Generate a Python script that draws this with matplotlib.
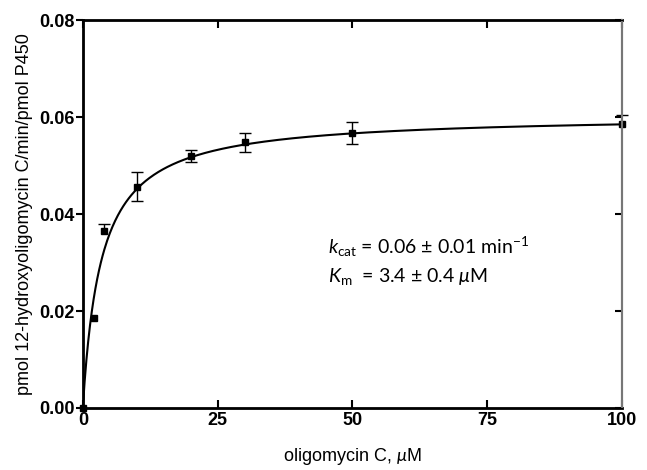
import matplotlib
matplotlib.use("Agg")
import matplotlib.pyplot as plt
import numpy as np

# substrate concentration (uM) and measured rate
conc = [0, 2, 4, 10, 20, 30, 50, 100]
rate = [0.0, 0.0186, 0.0365, 0.0456, 0.0520, 0.0548, 0.0567, 0.0586]
err_lo = [0.0, 0.0, 0.0, 0.0030, 0.0013, 0.0020, 0.0022, 0.0]
err_hi = [0.0, 0.0, 0.0015, 0.0030, 0.0013, 0.0020, 0.0022, 0.0018]

# Michaelis-Menten fit parameters
kcat = 0.0605
km = 3.4

x_ticks = [0, 25, 50, 75, 100]
y_ticks = [0.00, 0.02, 0.04, 0.06, 0.08]

plt.rcParams['font.family'] = ['Liberation Sans', 'DejaVu Sans']
plt.rcParams['mathtext.fontset'] = 'custom'
plt.rcParams['mathtext.rm'] = 'Lato'
plt.rcParams['mathtext.it'] = 'Lato:italic'

fig = plt.figure(figsize=(6.47, 4.70), dpi=100)
ax = fig.add_axes([0.128, 0.132, 0.833, 0.825])

xs = np.linspace(0, 100, 600)
ax.plot(xs, kcat * xs / (km + xs), color='black', lw=1.5, zorder=3)

# error bars, caps only where an error exists
ax.errorbar(conc, rate, yerr=[err_lo, err_hi], fmt='none', ecolor='black',
            elinewidth=1.0, capsize=0, zorder=4)
for xv, yv, lo, hi in zip(conc, rate, err_lo, err_hi):
    if hi > 0:
        ax.plot(xv, yv + hi, marker='_', ms=8, mew=1.0, color='black',
                zorder=4, clip_on=False)
    if lo > 0:
        ax.plot(xv, yv - lo, marker='_', ms=8, mew=1.0, color='black',
                zorder=4, clip_on=False)
ax.plot(conc, rate, 's', color='black', ms=4.5, zorder=5, clip_on=False)

ax.set_xlim(0, 100)
ax.set_ylim(0, 0.08)
ax.set_xticks(x_ticks)
ax.set_yticks(y_ticks)
ax.set_xticklabels([str(t) for t in x_ticks], fontweight='bold', fontsize=13)
ax.set_yticklabels(['%.2f' % t for t in y_ticks], fontweight='bold', fontsize=13)

ax.tick_params(axis='x', direction='in', top=True, length=6, width=1.5, pad=3)
ax.tick_params(axis='y', direction='out', length=5, width=1.5, pad=1)
for side in ['left', 'bottom', 'top']:
    ax.spines[side].set_linewidth(2.0)
ax.spines['right'].set_color('#777777')
ax.spines['right'].set_linewidth(1.5)

# inward ticks on the right side
ax2 = ax.twinx()
ax2.set_ylim(0, 0.08)
ax2.set_yticks(y_ticks)
ax2.set_yticklabels([])
ax2.tick_params(axis='y', direction='in', length=5, width=1.5)
ax2.spines['right'].set_color('#777777')
ax2.spines['right'].set_linewidth(1.5)

ax.set_xlabel('oligomycin C, $\\mu$M', fontsize=13, labelpad=12)
ax.set_ylabel('pmol 12-hydroxyoligomycin C/min/pmol P450', fontsize=13, labelpad=4)

ax.text(0.455, 0.398, '$\\mathit{k}_{\\mathrm{cat}}$ = 0.06 ± 0.01 min$^{\\mathrm{-1}}$',
        transform=ax.transAxes, fontsize=14, family='Lato')
ax.text(0.455, 0.326, '$\\mathit{K}_{\\mathrm{m}}$  = 3.4 ± 0.4 $\\mu$M',
        transform=ax.transAxes, fontsize=14, family='Lato')

fig.savefig('out.png', dpi=100)
